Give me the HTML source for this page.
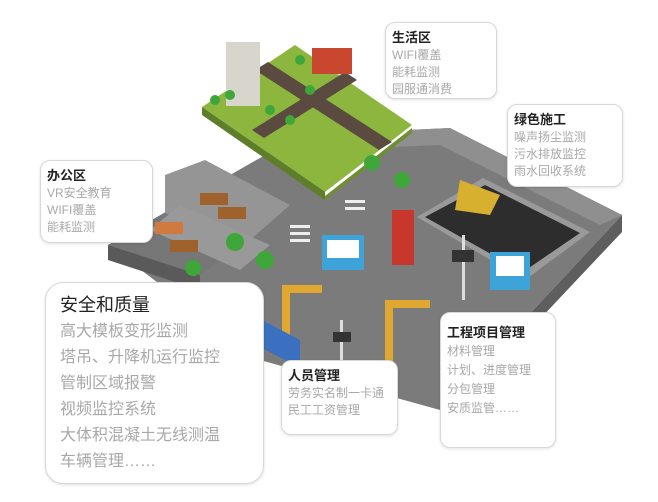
<!DOCTYPE html>
<html><head><meta charset="utf-8"><style>
html,body{margin:0;padding:0;background:#fff;}
#w{position:relative;width:658px;height:502px;overflow:hidden;font-family:"Liberation Sans","Noto Sans CJK SC",sans-serif;}
.b{position:absolute;background:#fff;border:1px solid #d8d8d8;border-radius:10px;box-shadow:0 1px 3px rgba(0,0,0,.12);color:#a8a8a8;font-size:12px;line-height:17px;padding:5px 6px;box-sizing:border-box;}
.b b{color:#222;font-weight:bold;display:block;font-size:13px;line-height:19px;}
</style></head><body><div id="w">
<svg width="658" height="502" style="position:absolute;left:0;top:0">
<polygon points="108,245 300,135 450,128 622,215 440,410 260,360" fill="#7b7b7b"/>
<polygon points="622,215 622,232 440,425 440,410" fill="#5e5e5e"/>
<polygon points="300,135 450,128 622,215 600,225 440,145 320,150" fill="#8f8f8f"/>
<polygon points="417,217 483,178 590,232 525,280" fill="#9a9a9a"/>
<polygon points="425,217 485,185 580,233 523,272" fill="#2d2d2d"/>
<polygon points="108,245 165,213 250,240 200,275" fill="#777"/>
<polygon points="165,175 205,160 290,205 250,240 165,213" fill="#959595"/>
<polygon points="150,230 180,205 270,245 240,270" fill="#999"/>
<polygon points="108,245 200,275 200,290 108,260" fill="#5a5a5a"/>
<rect x="200" y="193" width="28" height="12" fill="#a0622d"/><rect x="218" y="207" width="28" height="12" fill="#a0622d"/>
<rect x="170" y="240" width="28" height="12" fill="#a0622d"/><rect x="155" y="222" width="28" height="12" fill="#d07a40"/>
<polygon points="202,107 295,45 412,125 325,192" fill="#8db63f"/>
<polygon points="202,107 325,192 325,200 202,115" fill="#5e7e2a"/>
<polygon points="325,192 412,125 412,133 325,200" fill="#6e8f30"/>
<polygon points="325,192 412,125 412,128 325,196" fill="#fff"/>
<polygon points="255,70 268,62 392,142 379,150" fill="#5a4a40"/>
<polygon points="252,130 345,72 357,80 264,138" fill="#5a4a40"/>
<rect x="226" y="42" width="34" height="64" fill="#d8d5cc"/>
<rect x="312" y="48" width="40" height="26" fill="#c9472e"/>
<rect x="322" y="235" width="42" height="35" fill="#3ea3d8"/><rect x="327" y="240" width="32" height="18" fill="#fff"/>
<rect x="490" y="252" width="40" height="38" fill="#3ea3d8"/><rect x="496" y="256" width="28" height="20" fill="#fff"/>
<rect x="392" y="210" width="22" height="55" fill="#c8372c"/>
<polygon points="460,180 500,195 490,215 455,210" fill="#d8b030"/>
<rect x="462" y="235" width="3" height="65" fill="#ddd"/><rect x="452" y="250" width="22" height="12" fill="#333"/>
<rect x="282" y="285" width="8" height="60" fill="#e0a830"/><rect x="282" y="285" width="40" height="8" fill="#e0a830"/>
<rect x="385" y="300" width="8" height="70" fill="#e0a830"/><rect x="385" y="300" width="45" height="8" fill="#e0a830"/>
<polygon points="262,320 300,340 300,368 262,348" fill="#3b6fc0"/>
<rect x="340" y="320" width="3" height="50" fill="#ddd"/><rect x="333" y="332" width="18" height="10" fill="#333"/>
<g fill="#3fa63a">
<circle cx="372" cy="163" r="8"/><circle cx="402" cy="180" r="8"/><circle cx="235" cy="242" r="9"/><circle cx="265" cy="260" r="9"/><circle cx="193" cy="268" r="8"/>
<circle cx="215" cy="100" r="5"/><circle cx="230" cy="95" r="5"/><circle cx="270" cy="110" r="5"/><circle cx="290" cy="120" r="5"/><circle cx="310" cy="90" r="5"/><circle cx="300" cy="60" r="5"/>
</g>
<g fill="#eee"><rect x="290" y="225" width="20" height="3"/><rect x="290" y="232" width="20" height="3"/><rect x="290" y="239" width="20" height="3"/><rect x="345" y="200" width="20" height="3"/><rect x="345" y="207" width="20" height="3"/></g>
</svg>
<div class="b" style="left:385px;top:22px;width:112px;height:77px;"><b>生活区</b>WIFI覆盖<br>能耗监测<br>园服通消费</div>
<div class="b" style="left:507px;top:104px;width:116px;height:83px;"><b>绿色施工</b>噪声扬尘监测<br>污水排放监控<br>雨水回收系统</div>
<div class="b" style="left:40px;top:160px;width:113px;height:83px;"><b>办公区</b>VR安全教育<br>WIFI覆盖<br>能耗监测</div>
<div class="b" style="left:45px;top:282px;width:219px;height:202px;border-radius:18px;font-size:16px;line-height:26px;padding:8px 14px;"><b style="font-size:18px;line-height:28px;font-weight:normal;">安全和质量</b>高大模板变形监测<br>塔吊、升降机运行监控<br>管制区域报警<br>视频监控系统<br>大体积混凝土无线测温<br>车辆管理……</div>
<div class="b" style="left:281px;top:360px;width:117px;height:75px;"><b>人员管理</b>劳务实名制一卡通<br>民工工资管理</div>
<div class="b" style="left:440px;top:312px;width:116px;height:136px;padding-top:10px;line-height:19px;"><b>工程项目管理</b>材料管理<br>计划、进度管理<br>分包管理<br>安质监管……</div>
</div></body></html>
